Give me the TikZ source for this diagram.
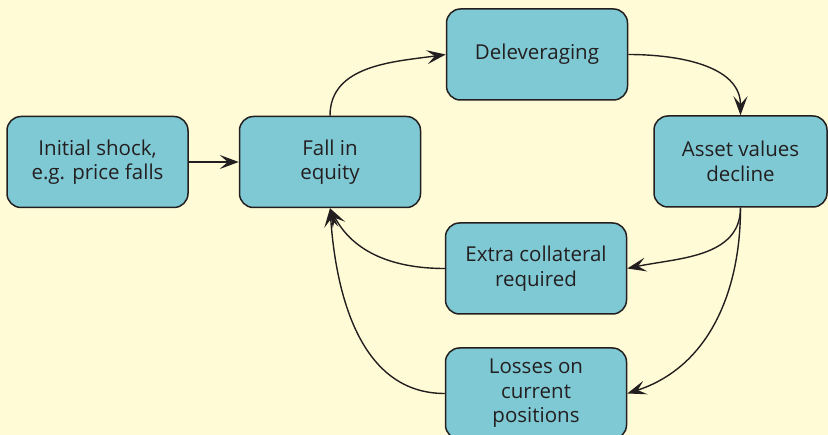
\documentclass[tikz,border=0pt]{standalone}
\usepackage{fontspec}
\setmainfont{Open Sans}
\usetikzlibrary{arrows.meta}
\definecolor{bg}{RGB}{255,251,214}
\definecolor{boxfill}{RGB}{127,201,213}
\definecolor{ink}{RGB}{35,31,32}
\begin{document}
\begin{tikzpicture}[x=1pt,y=-1pt,
  box/.style={draw=ink, line width=1.5pt, fill=boxfill, rounded corners=14pt,
    minimum width=181pt, minimum height=91pt, inner sep=0pt, align=center,
    text=ink, font=\fontsize{20.5}{24.5}\selectfont},
  conn/.style={draw=ink, line width=1.4pt,
    -{Stealth[length=19pt,width=14pt,inset=8pt]}}]
\clip (0,0) rectangle (828,435);
\fill[bg] (0,0) rectangle (828,435);
\node[box] (init) at (97.5,162) {Initial shock,\\e.g. price falls};
\node[box] (fall) at (330,162) {Fall in\\equity};
\node[box] (delev) at (537,54.5) {Deleveraging};
\node[box, minimum width=173pt] (asset) at (740.5,161.5) {Asset values\\decline};
\node[box] (extra) at (536,268.5) {Extra collateral\\required};
\node[box] (loss) at (536,393.5) {Losses on\\current\\positions};
\draw[conn] (init.east) -- (fall.west);
\draw[conn] (fall.north) to[out=90,in=188] (delev.west);
\draw[conn] (delev.east) to[out=0,in=90] (asset.north);
\draw[conn] (asset.south) to[out=-90,in=12] (extra.east);
\draw[conn] (asset.south) to[out=-90,in=18] (loss.east);
\draw[conn] (extra.west) to[out=180,in=-62] (fall.south);
\draw[conn] (loss.west) to[out=180,in=-86] (fall.south);
\end{tikzpicture}
\end{document}
